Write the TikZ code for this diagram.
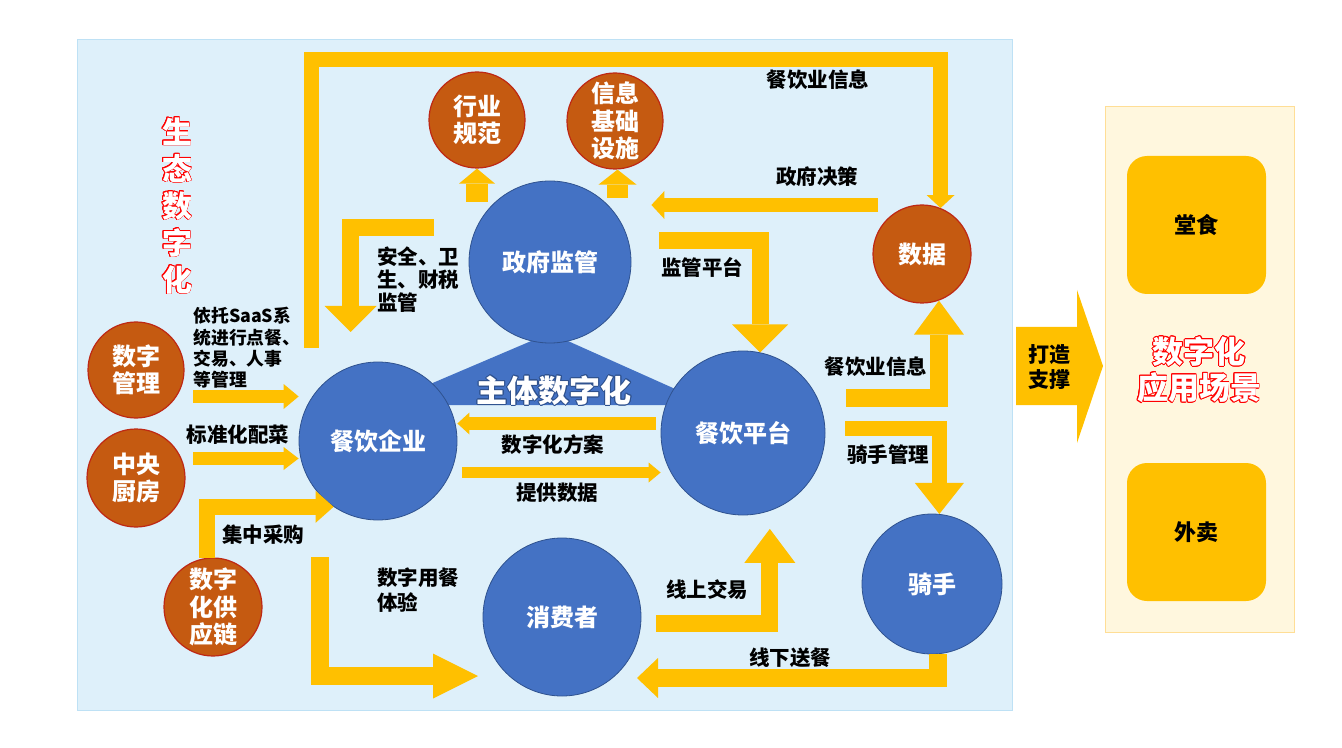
\documentclass[tikz,border=0pt]{standalone}
\usepackage{fontspec}
\setmainfont{Noto Sans CJK SC}
\usepackage{contour}
\usetikzlibrary{arrows.meta}
\definecolor{gold}{RGB}{255,192,0}
\definecolor{rustc}{RGB}{197,90,17}
\definecolor{rustl}{RGB}{190,40,20}
\definecolor{steelc}{RGB}{68,114,196}
\definecolor{steell}{RGB}{47,82,143}
\definecolor{skyc}{RGB}{222,240,250}
\definecolor{skyl}{RGB}{190,225,245}
\definecolor{creamc}{RGB}{255,247,222}
\definecolor{creaml}{RGB}{255,222,150}
\contourlength{0.35pt}

\begin{document}
\begin{tikzpicture}[x=0.5pt,y=-0.5pt,
  lbl/.style={inner sep=0pt,font=\bfseries\fontsize{10.25}{12.5}\selectfont},
  factor/.style={circle,fill=rustc,draw=rustl,line width=0.6pt,minimum size=#1pt,inner sep=0pt,
    text=white,align=center,font=\bfseries\fontsize{12}{13.75}\selectfont},
  actor/.style={circle,fill=steelc,draw=steell,line width=0.4pt,minimum size=#1pt,inner sep=0pt,
    text=white,font=\bfseries\fontsize{12}{14}\selectfont},
  flow/.style n args={3}{draw=gold,line width=#1,line join=miter,
    -{Triangle[width=#2,length=#3,line width=0pt]}},
  scene/.style={rounded corners=10pt,fill=gold,minimum width=69.5pt,minimum height=69pt,
    font=\bfseries\fontsize{11}{13}\selectfont}]
\useasboundingbox (0,0) rectangle (1342,748);
\draw[skyl,fill=skyc] (77,39) rectangle (1012,710);
\fill[steelc] (550,333) -- (381,405) -- (711,405) -- cycle;

\foreach \n/\x/\y/\r/\txt in {gov/550/262/81/政府监管,ent/378/441/79/餐饮企业,
  plat/743/433/82/餐饮平台,cons/562/617/79/消费者,rider/932/584/70/骑手}
  \node[actor=\r] (\n) at (\x,\y) {\txt};
\foreach \n/\x/\y/\r/\txt in {norm/477/120/48/{行业\\规范},infra/615/121/48/{信息\\基础\\设施},
  data/922/254/49/数据,mgmt/136/370/48/{数字\\管理},kitchen/136/478/49/{中央\\厨房},
  supply/213/607/49/{数字\\化供\\应链}}
  \node[factor=\r] (\n) at (\x,\y) {\txt};

\node[text=white,font=\bfseries\fontsize{15.5}{16}\selectfont] (subj) at (554,391) {\contour{steell}{主体数字化}};
\node[text=white,align=center,font=\bfseries\fontsize{15}{18.5}\selectfont] (eco) at (177,206)
  {\contour{red}{生}\\\contour{red}{态}\\\contour{red}{数}\\\contour{red}{字}\\\contour{red}{化}};

\coordinate (t0) at (311,348);
\coordinate (topbar) at (311,59.5);
\draw[flow={7.5pt}{14pt}{6.5pt}] (t0) -- (topbar) -| (data.68);
\coordinate (g0) at (878,205);
\draw[flow={7pt}{14pt}{6.5pt},shorten >=10pt] (g0) -- (g0 -| gov.east);
\coordinate (s0) at (659,241);
\draw[flow={8.5pt}{28pt}{14pt}] (s0) -| (plat.78);
\coordinate (i0) at (846,397.5);
\draw[flow={9pt}{25pt}{17pt}] (i0) -| (data.-70);
\coordinate (r0) at (845,428.5);
\draw[flow={7.5pt}{24.5pt}{15.5pt}] (r0) -| (rider.84);
\coordinate (d1) at (637,678);
\draw[flow={9pt}{20pt}{10.5pt}] (rider.-85) |- (d1);
\coordinate (o0) at (656,623.5);
\draw[flow={8.5pt}{25.5pt}{17pt},shorten >=9pt] (o0) -| (plat.-71);
\coordinate (e0) at (320,557);
\coordinate (e1) at (478,676);
\draw[flow={9pt}{22.5pt}{22.5pt}] (e0) |- (e1);
\draw[flow={8pt}{16pt}{9pt}] (supply.97) |- (ent.236);
\coordinate (k0) at (193,458.5);
\draw[flow={6.5pt}{11.5pt}{7.5pt}] (k0) -- (k0 -| ent.west);
\coordinate (m0) at (193,396.5);
\draw[flow={6.5pt}{12.5pt}{7.5pt}] (m0) -- (m0 -| ent.west);
\coordinate (a0) at (434,228);
\coordinate (a1) at (350.5,332);
\draw[flow={8.5pt}{26pt}{13pt}] (a0) -| (a1);
\coordinate (n0) at (477,202);
\draw[flow={11pt}{18pt}{7.5pt}] (n0) -- (norm.south);
\coordinate (f0) at (617.5,198);
\draw[flow={10.5pt}{19pt}{7.5pt}] (f0) -- (f0 |- infra.south);
\coordinate (p0) at (656,423.5);
\draw[flow={6.5pt}{11pt}{6pt}] (p0) -- (p0 -| ent.east);
\coordinate (q0) at (462,472.5);
\draw[flow={5.5pt}{10pt}{6pt}] (q0) -- (q0 -| plat.west);

\node[lbl] (info1) at (818,80) {餐饮业信息};
\node[lbl] (decide) at (817,177) {政府决策};
\node[lbl] (superv) at (702,267) {监管平台};
\node[lbl] (info2) at (876,367) {餐饮业信息};
\node[lbl] (ridermg) at (888,455) {骑手管理};
\node[lbl] (offline) at (790,658) {线下送餐};
\node[lbl] (online) at (707,590) {线上交易};
\node[lbl,anchor=west,align=left] (dining) at (377,590) {数字用餐\\体验};
\node[lbl] (purchase) at (263,535) {集中采购};
\node[lbl] (stddish) at (238,435) {标准化配菜};
\node[lbl,anchor=west,align=left,font=\bfseries\fontsize{8.9}{10.65}\selectfont] (saas) at (193,348)
  {依托SaaS系\\统进行点餐、\\交易、人事\\等管理};
\node[lbl,anchor=west,align=left,font=\bfseries\fontsize{10.25}{11.5}\selectfont] (safety) at (377,280)
  {安全、卫\\生、财税\\监管};
\node[lbl] (scheme) at (553,445) {数字化方案};
\node[lbl] (feed) at (557,493) {提供数据};

\node[draw=creaml,fill=creamc,minimum width=94.5pt,minimum height=263pt,inner sep=0pt] (panel) at (1199.5,369) {};
\node[scene] (hall) at (1196.5,225) {堂食};
\node[scene] (deliv) at (1196.5,532) {外卖};
\node[text=white,align=center,font=\bfseries\fontsize{15.5}{18}\selectfont] (apps) at (1199,370)
  {\contour{red}{数字化}\\\contour{red}{应用场景}};
\fill[gold] (1016,327) -- (1077,327) -- (1077,290) -- (1103,366) -- (1077,443) -- (1077,405) -- (1016,405) -- cycle;
\node[lbl,align=center,font=\bfseries\fontsize{10.5}{12.5}\selectfont] (build) at (1049,367) {打造\\支撑};
\end{tikzpicture}
\end{document}
